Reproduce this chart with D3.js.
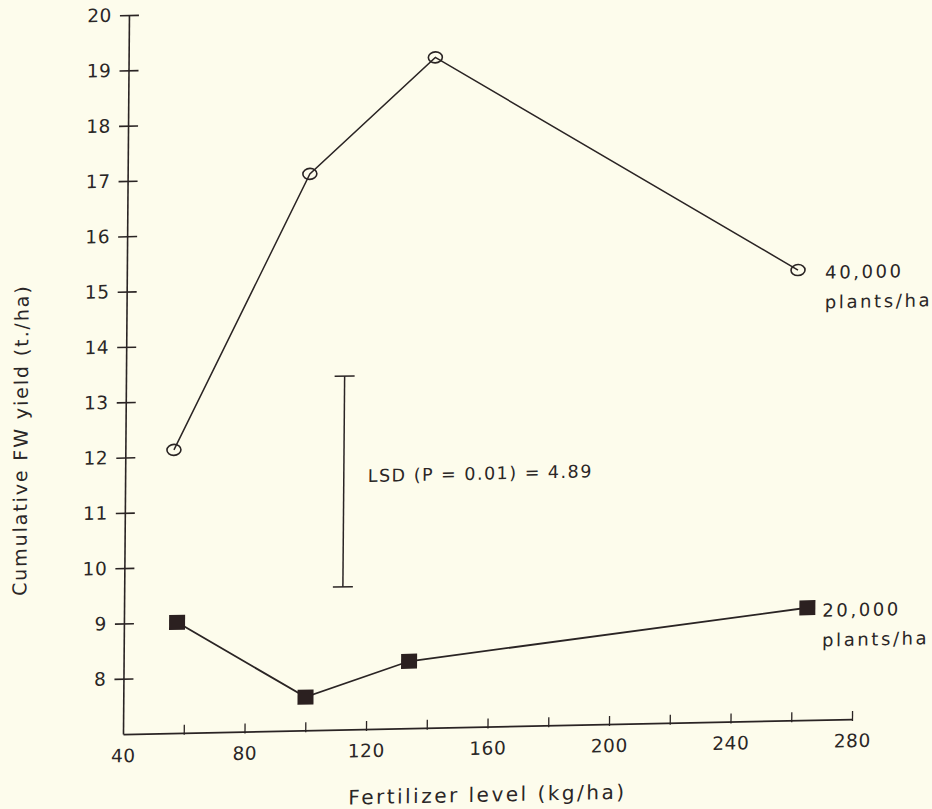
<!DOCTYPE html>
<html>
<head>
<meta charset="utf-8">
<script src="https://cdn.jsdelivr.net/npm/d3@7"></script>
<style>
  html, body { margin: 0; padding: 0; background: #fdfcec; }
  svg { display: block; }
  text { font-family: "DejaVu Sans", sans-serif; fill: #2a2626; }
</style>
</head>
<body>
<script>
// ---- data ----
const xTicks = [60, 80, 100, 120, 140, 160, 180, 200, 220, 240, 260, 280];
const xTickLabels = [40, 80, 120, 160, 200, 240, 280];
const yTicks = [8, 9, 10, 11, 12, 13, 14, 15, 16, 17, 18, 19, 20];

const fert40k = [56, 100, 141, 261];
const yield40k = [12.12, 17.06, 19.12, 15.14];
const fert20k = [57.5, 100, 134, 265];
const yield20k = [9.0, 7.6, 8.21, 9.03];

const lsdX = 112;
const lsdLow = 9.58;
const lsdHigh = 13.39;
const lsdLabel = "LSD (P = 0.01) = 4.89";

const label40k = ["40,000", "plants/ha"];
const label20k = ["20,000", "plants/ha"];
const xTitle = "Fertilizer level (kg/ha)";
const yTitle = "Cumulative FW yield (t./ha)";

// ---- layout ----
const W = 932, H = 809;
const x = d3.scaleLinear().domain([40, 280]).range([123, 852]);
const y = d3.scaleLinear().domain([7, 20]).range([734, 15]);
const ink = "#2a2424";

const svg = d3.select("body").append("svg").attr("width", W).attr("height", H);
svg.append("rect").attr("width", W).attr("height", H).attr("fill", "#fdfcec");

// slight skew as in the scanned original
const g = svg.append("g").attr("transform", "matrix(1,-0.0205,-0.0083,1,6.09,2.56)");

// y axis
const yAxis = g.append("g").attr("transform", `translate(${x(40)},0)`)
  .call(d3.axisLeft(y).tickValues(yTicks).tickSize(9).tickSizeOuter(0).tickPadding(8));
yAxis.select(".domain").attr("stroke", ink).attr("stroke-width", 1.6);
yAxis.selectAll(".tick line").attr("stroke", ink).attr("stroke-width", 1.6).attr("x1", 10).attr("x2", -9);
yAxis.selectAll(".tick text").style("font-size", "18.5px").style("font-family", "DejaVu Sans")
  .style("letter-spacing", "0.6px").attr("fill", ink);

// x axis
const xAxis = g.append("g").attr("transform", `translate(0,${y(7)})`)
  .call(d3.axisBottom(x).tickValues(xTicks).tickSize(8).tickSizeOuter(0).tickFormat(""));
xAxis.select(".domain").attr("stroke", ink).attr("stroke-width", 1.8);
xAxis.selectAll(".tick line").attr("stroke", ink).attr("stroke-width", 1.3).attr("y1", 2).attr("y2", -8);
const xLab = g.append("g").attr("transform", `translate(0,${y(7)})`)
  .call(d3.axisBottom(x).tickValues(xTickLabels).tickSize(0).tickPadding(15));
xLab.select(".domain").remove();
xLab.selectAll(".tick text").style("font-size", "18.5px").style("font-family", "DejaVu Sans")
  .style("letter-spacing", "0.6px").attr("fill", ink);

// titles
g.append("text").attr("x", 488).attr("y", 809).attr("text-anchor", "middle")
  .style("font-size", "20px").style("letter-spacing", "2.5px").text(xTitle);
g.append("text").attr("transform", "translate(25,438) rotate(-90)").attr("text-anchor", "middle")
  .style("font-size", "19px").style("letter-spacing", "1.9px").text(yTitle);

// lines
const line = d3.line().x(d => x(d[0])).y(d => y(d[1]));
const d40 = fert40k.map((v, i) => [v, yield40k[i]]);
const d20 = fert20k.map((v, i) => [v, yield20k[i]]);
g.append("path").attr("d", line(d40)).attr("fill", "none").attr("stroke", ink).attr("stroke-width", 1.5);
g.append("path").attr("d", line(d20)).attr("fill", "none").attr("stroke", ink).attr("stroke-width", 1.8);

// markers
g.selectAll("ellipse.m40").data(d40).enter().append("ellipse")
  .attr("cx", d => x(d[0])).attr("cy", d => y(d[1])).attr("rx", 7).attr("ry", 5.5)
  .attr("fill", "none").attr("stroke", ink).attr("stroke-width", 1.6);
g.selectAll("rect.m20").data(d20).enter().append("rect")
  .attr("x", d => x(d[0]) - 8).attr("y", d => y(d[1]) - 7.5).attr("width", 16).attr("height", 15)
  .attr("fill", "#2b2020");

// LSD bar
g.append("line").attr("x1", x(lsdX)).attr("x2", x(lsdX)).attr("y1", y(lsdLow)).attr("y2", y(lsdHigh))
  .attr("stroke", ink).attr("stroke-width", 1.5);
[lsdLow, lsdHigh].forEach(v => {
  g.append("line").attr("x1", x(lsdX) - 10).attr("x2", x(lsdX) + 10).attr("y1", y(v)).attr("y2", y(v))
    .attr("stroke", ink).attr("stroke-width", 1.5);
});
g.append("text").attr("x", x(lsdX) + 24).attr("y", y((lsdLow + lsdHigh) / 2)).attr("dy", "0.05em")
  .style("font-size", "17.5px").style("letter-spacing", "1.5px").text(lsdLabel);

// series labels
const lx = x(fert20k[3]) + 15;
[[label40k, yield40k[3]], [label20k, yield20k[3]]].forEach(([lab, v]) => {
  const t = g.append("text").attr("x", lx).attr("y", y(v) + 3).attr("dy", "0.35em")
    .style("font-size", "18px").style("letter-spacing", "2.6px");
  t.append("tspan").attr("x", lx).text(lab[0]);
  t.append("tspan").attr("x", lx).attr("dy", "1.65em").text(lab[1]);
});
</script>
</body>
</html>
